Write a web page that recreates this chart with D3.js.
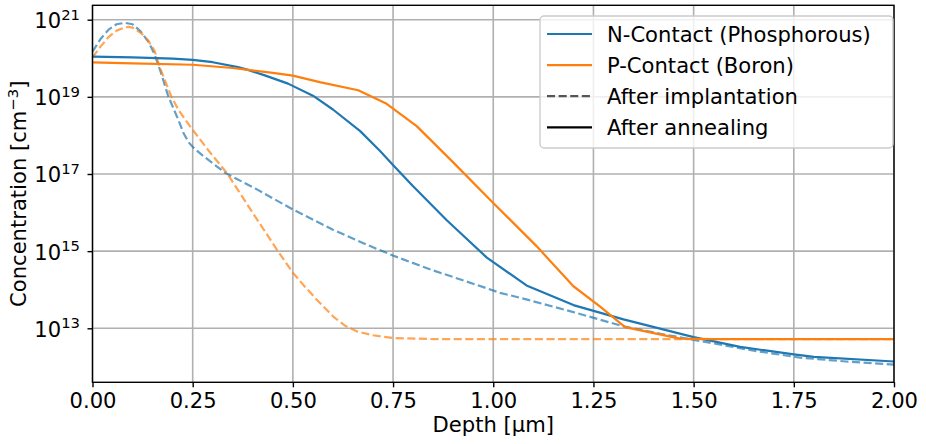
<!DOCTYPE html>
<html>
<head>
<meta charset="utf-8">
<script src="https://cdn.jsdelivr.net/npm/d3@7"></script>
<style>
  html, body { margin: 0; padding: 0; background: #fff; }
  svg { display: block; font-family: "DejaVu Sans", sans-serif; }
</style>
</head>
<body>
<svg id="chart" width="926" height="444"></svg>
<script>
// Dopant depth profiles: phosphorus (N-contact) and boron (P-contact),
// as implanted and after the anneal. Depth in µm, concentration in cm^-3.

const implantPDepth = [0, 0.02, 0.04, 0.06, 0.08, 0.10, 0.12, 0.14, 0.155, 0.17, 0.188, 0.2, 0.214, 0.227, 0.24, 0.252, 0.277, 0.331, 0.41, 0.5, 0.6, 0.684, 0.751, 0.85, 0.92, 1.017, 1.067, 1.2, 1.325, 1.42, 1.516, 1.65, 1.765, 1.88, 2.0];
const implantPConc  = [1.48e20, 3.16e20, 5.5e20, 7.6e20, 8.3e20, 7.6e20, 5.0e20, 2.63e20, 1.26e20, 4.5e19, 1.12e19, 5.6e18, 2.57e18, 1.15e18, 6.6e17, 4.8e17, 2.9e17, 1.07e17, 4.0e16, 1.2e16, 3.6e15, 1.48e15, 7.6e14, 3.16e14, 1.82e14, 8.3e13, 6.2e13, 2.63e13, 1.12e13, 7.1e12, 4.7e12, 2.63e12, 1.74e12, 1.38e12, 1.15e12];

const annealPDepth = [0, 0.1, 0.2, 0.25, 0.3, 0.363, 0.388, 0.43, 0.488, 0.55, 0.6, 0.668, 0.717, 0.751, 0.8, 0.884, 0.984, 1.083, 1.2, 1.325, 1.5, 1.616, 1.75, 1.8, 2.0];
const annealPConc  = [1.1e20, 1.05e20, 9.8e19, 9.1e19, 7.9e19, 5.9e19, 5.0e19, 3.6e19, 2.2e19, 1.07e19, 4.7e18, 1.29e18, 4.0e17, 1.66e17, 4.8e16, 6.3e15, 6.8e14, 1.29e14, 4.0e13, 1.7e13, 5.9e12, 3.3e12, 2.1e12, 1.82e12, 1.38e12];

const implantBDepth = [0, 0.02, 0.04, 0.06, 0.08, 0.09, 0.10, 0.12, 0.14, 0.155, 0.168, 0.18, 0.197, 0.215, 0.243, 0.29, 0.335, 0.368, 0.393, 0.426, 0.46, 0.5, 0.53, 0.559, 0.6, 0.63, 0.66, 0.7, 0.75, 0.85, 2.0];
const implantBConc  = [1.05e20, 2.0e20, 3.55e20, 5.2e20, 6.3e20, 6.5e20, 6.2e20, 4.6e20, 2.8e20, 1.55e20, 5.8e19, 2.8e19, 1.0e19, 4.5e18, 1.74e18, 4.0e17, 1.07e17, 3.2e16, 1.26e16, 3.8e15, 1.1e15, 2.75e14, 1.2e14, 5.6e13, 2.04e13, 1.17e13, 8.3e12, 6.6e12, 5.6e12, 5.25e12, 5.25e12];

const annealBDepth = [0, 0.1, 0.25, 0.35, 0.388, 0.45, 0.5, 0.567, 0.663, 0.734, 0.809, 0.9, 1.0, 1.108, 1.2, 1.266, 1.329, 1.466, 1.55, 2.0];
const annealBConc  = [7.8e19, 7.4e19, 6.8e19, 5.6e19, 5.0e19, 4.2e19, 3.55e19, 2.4e19, 1.48e19, 6.6e18, 1.74e18, 2.0e17, 1.78e16, 1.35e15, 1.23e14, 3.7e13, 1.07e13, 5.4e12, 5.25e12, 5.25e12];

const xTicks = [0, 0.25, 0.5, 0.75, 1.0, 1.25, 1.5, 1.75, 2.0];
const yTicks = [1e13, 1e15, 1e17, 1e19, 1e21];
const yTickExponents = ["13", "15", "17", "19", "21"];

const seriesNames = ["N-Contact (Phosphorous)", "P-Contact (Boron)"];
const styleNames = ["After implantation", "After annealing"];

const BLUE = "#1f77b4", ORANGE = "#ff7f0e";
const FONT = 21.1, SUP = 14.8;

const plotLeft = 92.5, plotRight = 894, plotTop = 5.3, plotBottom = 382.3;

const svg = d3.select("#chart");

const x = d3.scaleLinear().domain([0, 2]).range([plotLeft, plotRight]);
const y = d3.scaleLog().domain([Math.pow(10, 11.6), Math.pow(10, 21.373)]).range([plotBottom, plotTop]);

// grid
const grid = svg.append("g");
grid.selectAll("line.vx").data(xTicks).join("line")
  .attr("x1", d => x(d)).attr("x2", d => x(d))
  .attr("y1", plotTop).attr("y2", plotBottom)
  .attr("stroke", "#b0b0b0").attr("stroke-width", 1.6);
grid.selectAll("line.hy").data(yTicks).join("line")
  .attr("x1", plotLeft).attr("x2", plotRight)
  .attr("y1", d => y(d)).attr("y2", d => y(d))
  .attr("stroke", "#b0b0b0").attr("stroke-width", 1.6);

// profiles
const line = d3.line().x(d => x(d[0])).y(d => y(d[1]));
const zip = (a, b) => a.map((v, i) => [v, b[i]]);

const curves = [
  { pts: zip(implantPDepth, implantPConc), color: BLUE, dashed: true },
  { pts: zip(implantBDepth, implantBConc), color: ORANGE, dashed: true },
  { pts: zip(annealPDepth, annealPConc), color: BLUE, dashed: false },
  { pts: zip(annealBDepth, annealBConc), color: ORANGE, dashed: false }
];
svg.append("g").selectAll("path").data(curves).join("path")
  .attr("d", d => line(d.pts))
  .attr("fill", "none")
  .attr("stroke", d => d.color)
  .attr("stroke-width", 2.2)
  .attr("stroke-opacity", d => d.dashed ? 0.7 : 1)
  .attr("stroke-dasharray", d => d.dashed ? "8.1,3.5" : null)
  .attr("stroke-linejoin", "round");

// axes
const xAxis = svg.append("g").attr("transform", `translate(0,${plotBottom})`)
  .call(d3.axisBottom(x).tickValues(xTicks).tickFormat(d3.format(".2f")).tickSize(5).tickSizeOuter(0));
xAxis.select(".domain").remove();
xAxis.selectAll(".tick line").attr("stroke", "#000").attr("stroke-width", 1.4);
xAxis.selectAll(".tick text")
  .attr("y", 26).attr("dy", 0)
  .attr("font-size", FONT).attr("font-family", "DejaVu Sans").attr("fill", "#000");

const yAxis = svg.append("g").attr("transform", `translate(${plotLeft},0)`)
  .call(d3.axisLeft(y).tickValues(yTicks).tickFormat(() => "").tickSize(5).tickSizeOuter(0));
yAxis.select(".domain").remove();
yAxis.selectAll(".tick line").attr("stroke", "#000").attr("stroke-width", 1.4);
yAxis.selectAll(".tick text").each(function (d, i) {
  const t = d3.select(this)
    .attr("x", -12.5).attr("y", 8).attr("dy", 0)
    .attr("text-anchor", "end")
    .attr("font-size", FONT).attr("font-family", "DejaVu Sans").attr("fill", "#000");
  t.text(null);
  t.append("tspan").text("10");
  t.append("tspan").attr("font-size", SUP).attr("dy", -8.3).text(yTickExponents[i]);
});

// frame
svg.append("rect")
  .attr("x", plotLeft).attr("y", plotTop)
  .attr("width", plotRight - plotLeft).attr("height", plotBottom - plotTop)
  .attr("fill", "none").attr("stroke", "#000").attr("stroke-width", 1.4);

// axis titles
svg.append("text")
  .attr("x", (plotLeft + plotRight) / 2).attr("y", 432)
  .attr("text-anchor", "middle").attr("font-size", FONT)
  .text("Depth [µm]");

const yl = svg.append("text")
  .attr("transform", `translate(26,${(plotTop + plotBottom) / 2}) rotate(-90)`)
  .attr("text-anchor", "middle").attr("font-size", FONT);
yl.append("tspan").text("Concentration [cm");
yl.append("tspan").attr("font-size", SUP).attr("dy", -8.3).text("−3");
yl.append("tspan").attr("dy", 8.3).text("]");

// legend
const legend = svg.append("g");
legend.append("rect")
  .attr("x", 540).attr("y", 16).attr("width", 353).attr("height", 132).attr("rx", 4)
  .attr("fill", "#fff").attr("fill-opacity", 0.8)
  .attr("stroke", "#cccccc").attr("stroke-width", 1.4);

const legendItems = [
  { label: seriesNames[0], color: BLUE, dash: null },
  { label: seriesNames[1], color: ORANGE, dash: null },
  { label: styleNames[0], color: "#555", dash: "8.1,3.5" },
  { label: styleNames[1], color: "#000", dash: null }
];
const rows = legend.selectAll("g.item").data(legendItems).join("g")
  .attr("transform", (d, i) => `translate(0,${41.5 + i * 31.1})`);
rows.append("line")
  .attr("x1", 547).attr("x2", 592).attr("y1", -7.5).attr("y2", -7.5)
  .attr("stroke", d => d.color).attr("stroke-width", 2.2)
  .attr("stroke-dasharray", d => d.dash);
rows.append("text")
  .attr("x", 607).attr("y", 0)
  .attr("font-size", FONT).attr("fill", "#000")
  .text(d => d.label);
</script>
</body>
</html>
